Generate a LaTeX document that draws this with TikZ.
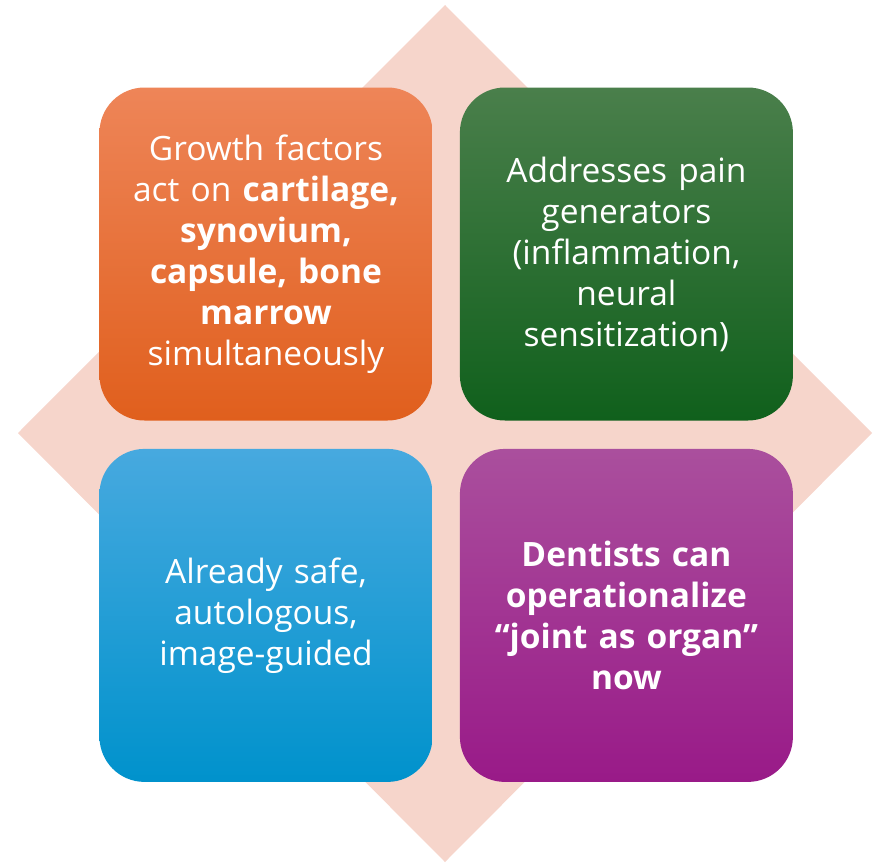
\documentclass[tikz,border=0pt]{standalone}
\usepackage{fontspec}
\setmainfont{Open Sans}
\usetikzlibrary{positioning}

\definecolor{diamondpink}{HTML}{F6D5CB}
\definecolor{orangetop}{HTML}{EE8558}
\definecolor{orangebot}{HTML}{E05F1D}
\definecolor{greentop}{HTML}{4A7F4B}
\definecolor{greenbot}{HTML}{10601C}
\definecolor{bluetop}{HTML}{47A9DF}
\definecolor{bluebot}{HTML}{0092CC}
\definecolor{purpletop}{HTML}{AA4F9D}
\definecolor{purplebot}{HTML}{991A88}

\begin{document}
\begin{tikzpicture}[
    x=1pt, y=-1pt,
    tile/.style={rounded corners=45pt, minimum width=333pt, minimum height=333pt,
                 inner sep=0pt, text=white, align=center, text width=310pt,
                 font=\fontsize{33.5}{41}\selectfont},
    orangetile/.style={tile, top color=orangetop, bottom color=orangebot},
    greentile/.style={tile, top color=greentop, bottom color=greenbot},
    bluetile/.style={tile, top color=bluetop, bottom color=bluebot},
    purpletile/.style={tile, top color=purpletop, bottom color=purplebot}
]
\useasboundingbox (0,0) rectangle (873,865);

% --- background diamond ---
\fill[diamondpink] (445,5) -- (872,433) -- (445,862) -- (18,433) -- cycle;

% --- the four tiles ---
\node[orangetile] (growth) at (266,254) {Growth factors\\act on \textbf{cartilage,}\\\textbf{synovium,}\\\textbf{capsule, bone}\\\textbf{marrow}\\simultaneously};
\node[greentile, right=27pt of growth] (pain) {Addresses pain\\generators\\(inflammation,\\neural\\sensitization)};
\node[bluetile, below=28pt of growth] (safe) {Already safe,\\autologous,\\image-guided};
\node[purpletile, below=28pt of pain] (dentists) {\textbf{Dentists can}\\\textbf{operationalize}\\\textbf{“joint as organ”}\\\textbf{now}};

\end{tikzpicture}
\end{document}
